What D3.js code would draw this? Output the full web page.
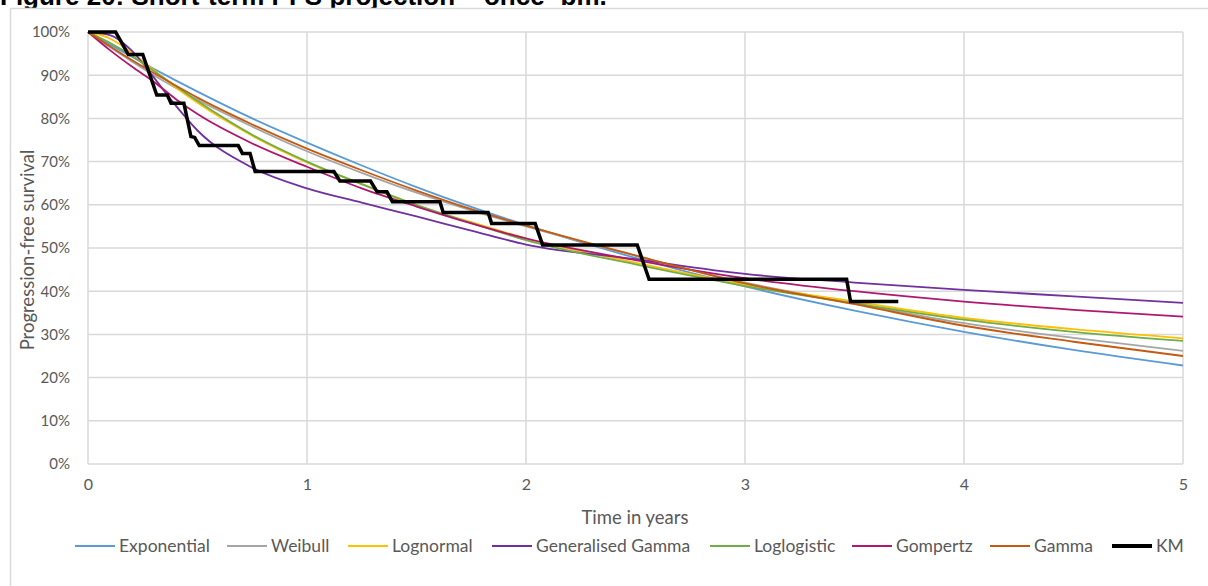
<!DOCTYPE html>
<html>
<head>
<meta charset="utf-8">
<script src="https://cdn.jsdelivr.net/npm/d3@7/dist/d3.min.js"></script>
<style>
  body { margin: 0; background: #fff; }
  svg text { font-family: Lato, "Open Sans", "Liberation Sans", sans-serif; fill: #595959; }
</style>
</head>
<body>
<div id="chart"></div>
<script>
// time grid (years) shared by the fitted curves
let times = [0, 0.1, 0.2, 0.3, 0.4, 0.5, 0.75, 1, 1.25, 1.5, 1.75, 2, 2.5, 3, 3.5, 4, 4.5, 5];

let exponential = [1, 0.971, 0.943, 0.915, 0.888, 0.862, 0.800, 0.744, 0.691, 0.641, 0.595, 0.553, 0.477, 0.411, 0.355, 0.306, 0.264, 0.228];
let weibull     = [1, 0.965, 0.932, 0.900, 0.871, 0.843, 0.781, 0.724, 0.674, 0.628, 0.587, 0.550, 0.482, 0.420, 0.372, 0.326, 0.292, 0.262];
let lognormal   = [1, 0.985, 0.952, 0.912, 0.872, 0.836, 0.760, 0.698, 0.648, 0.598, 0.560, 0.522, 0.466, 0.415, 0.376, 0.338, 0.312, 0.291];
let genGamma    = [1, 0.993, 0.957, 0.895, 0.830, 0.772, 0.686, 0.638, 0.605, 0.573, 0.540, 0.508, 0.474, 0.440, 0.420, 0.403, 0.388, 0.373];
let loglogistic = [1, 0.975, 0.945, 0.910, 0.875, 0.840, 0.762, 0.700, 0.648, 0.600, 0.558, 0.518, 0.462, 0.412, 0.372, 0.334, 0.306, 0.285];
let gompertz    = [1, 0.958, 0.920, 0.885, 0.845, 0.810, 0.742, 0.688, 0.638, 0.596, 0.557, 0.522, 0.472, 0.430, 0.400, 0.376, 0.357, 0.341];
let gamma       = [1, 0.967, 0.935, 0.905, 0.876, 0.848, 0.786, 0.730, 0.680, 0.633, 0.590, 0.552, 0.483, 0.418, 0.370, 0.320, 0.283, 0.250];

// Kaplan-Meier points as plotted
let kmTimes = [0, 0.126, 0.184, 0.25, 0.314, 0.362, 0.379, 0.438, 0.47, 0.487, 0.508, 0.686, 0.705, 0.74, 0.763, 1.123, 1.15, 1.29, 1.32, 1.365, 1.39, 1.607, 1.622, 1.827, 1.843, 2.042, 2.076, 2.508, 2.562, 3.464, 3.482, 3.70];
let kmSurv  = [1, 1, 0.948, 0.948, 0.854, 0.854, 0.835, 0.835, 0.758, 0.756, 0.737, 0.737, 0.719, 0.719, 0.677, 0.677, 0.655, 0.655, 0.63, 0.63, 0.607, 0.607, 0.582, 0.582, 0.557, 0.557, 0.507, 0.507, 0.4275, 0.4275, 0.376, 0.376];

let seriesNames  = ["Exponential", "Weibull", "Lognormal", "Generalised Gamma", "Loglogistic", "Gompertz", "Gamma", "KM"];
let seriesColors = ["#5B9BD5", "#A5A5A5", "#FFC000", "#7030A0", "#70AD47", "#B0186F", "#C55A11", "#000000"];
let yTicks = [0, 0.1, 0.2, 0.3, 0.4, 0.5, 0.6, 0.7, 0.8, 0.9, 1];
let xTicks = [0, 1, 2, 3, 4, 5];

let curves = [exponential, weibull, lognormal, genGamma, loglogistic, gompertz, gamma];

let width = 1208, height = 586;
let plot = { left: 88, right: 1183, top: 32, bottom: 464 };

var svg = d3.select("#chart").append("svg")
    .attr("width", width)
    .attr("height", height);

// title (cut off at the top in the source)
svg.append("text")
    .attr("x", 0)
    .attr("y", 5)
    .style("font-family", "'Liberation Sans', Arial, sans-serif")
    .style("font-weight", "bold")
    .style("font-size", "26px")
    .style("fill", "#000")
    .text("Figure 20: Short-term PFS projection \u2013 once- bm.");

// chart area
svg.append("rect")
    .attr("x", 10.5).attr("y", 8.5)
    .attr("width", 1300).attr("height", 700)
    .attr("fill", "#fff")
    .attr("stroke", "#D9D9D9")
    .attr("stroke-width", 1.5);

var xScale = d3.scaleLinear().domain([0, 5]).range([plot.left, plot.right]);
var yScale = d3.scaleLinear().domain([0, 1]).range([plot.bottom, plot.top]);

// gridlines
svg.append("g").selectAll("line")
    .data(yTicks)
    .enter().append("line")
    .attr("x1", plot.left).attr("x2", plot.right)
    .attr("y1", d => yScale(d)).attr("y2", d => yScale(d))
    .attr("stroke", "#D9D9D9")
    .attr("stroke-width", 1.5);

svg.append("g").selectAll("line")
    .data(xTicks)
    .enter().append("line")
    .attr("x1", d => xScale(d)).attr("x2", d => xScale(d))
    .attr("y1", plot.top).attr("y2", plot.bottom)
    .attr("stroke", "#D9D9D9")
    .attr("stroke-width", 1.5);

// axes (labels only)
var yAxis = svg.append("g")
    .attr("transform", "translate(" + plot.left + ",0)")
    .call(d3.axisLeft(yScale).tickValues(yTicks).tickFormat(d3.format(".0%")).tickSize(0).tickPadding(18));
yAxis.select(".domain").remove();
yAxis.selectAll("text").style("font-size", "15px").style("fill", "#595959");

var xAxis = svg.append("g")
    .attr("transform", "translate(0," + plot.bottom + ")")
    .call(d3.axisBottom(xScale).tickValues(xTicks).tickFormat(d3.format("d")).tickSize(0).tickPadding(15));
xAxis.select(".domain").remove();
xAxis.selectAll("text").style("font-size", "16px").style("fill", "#595959");

// axis titles
svg.append("text")
    .attr("x", 635)
    .attr("y", 524)
    .attr("text-anchor", "middle")
    .style("font-size", "18.5px")
    .text("Time in years");

svg.append("text")
    .attr("transform", "translate(34," + 250 + ") rotate(-90)")
    .attr("text-anchor", "middle")
    .style("font-size", "18.5px")
    .text("Progression-free survival");

// fitted curves
var line = d3.line()
    .x(d => xScale(d[0]))
    .y(d => yScale(d[1]))
    .curve(d3.curveMonotoneX);

curves.forEach(function (vals, i) {
    svg.append("path")
        .datum(times.map((t, j) => [t, vals[j]]))
        .attr("fill", "none")
        .attr("stroke", seriesColors[i])
        .attr("stroke-width", 1.8)
        .attr("d", line);
});

// KM
var kmLine = d3.line()
    .x(d => xScale(d[0]))
    .y(d => yScale(d[1]));

svg.append("path")
    .datum(kmTimes.map((t, j) => [t, kmSurv[j]]))
    .attr("fill", "none")
    .attr("stroke", "#000")
    .attr("stroke-width", 3.5)
    .attr("stroke-linejoin", "miter")
    .attr("d", kmLine);

// legend
var legendX = [75, 227, 348, 492, 710, 852, 990, 1112];
var legend = svg.append("g").attr("transform", "translate(0,546)");
seriesNames.forEach(function (name, i) {
    legend.append("line")
        .attr("x1", legendX[i]).attr("x2", legendX[i] + 40)
        .attr("y1", 0).attr("y2", 0)
        .attr("stroke", seriesColors[i])
        .attr("stroke-width", i === 7 ? 4 : 2);
    legend.append("text")
        .attr("x", legendX[i] + 44)
        .attr("y", 6)
        .style("font-size", "17.5px")
        .text(name);
});
</script>
</body>
</html>
